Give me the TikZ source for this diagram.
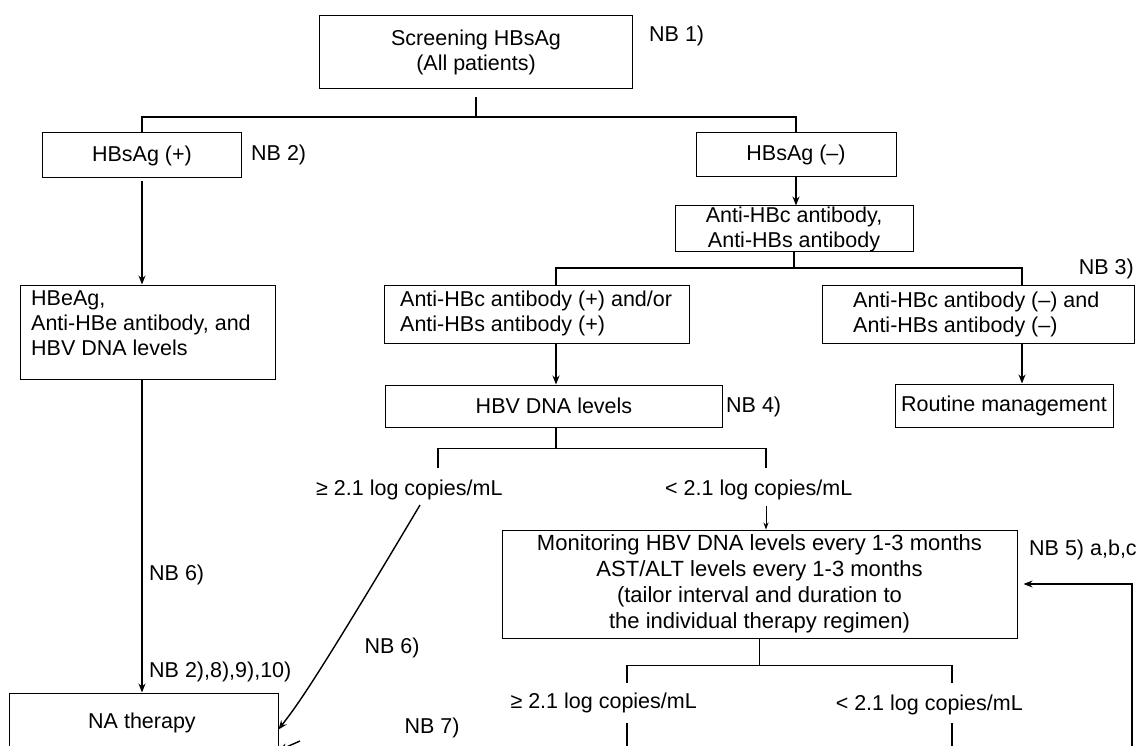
\documentclass[tikz,border=0pt]{standalone}
\usepackage{fontspec}
\setmainfont{Liberation Sans}
\usetikzlibrary{arrows.meta}
\begin{document}
\begin{tikzpicture}[x=1pt,y=-1pt,
  every node/.style={font=\fontsize{21.5}{25}\selectfont, inner sep=0pt},
  box/.style={draw, line width=1pt, align=center},
  txt/.style={align=left},
  conn/.style={line width=1.4pt},
  arr/.style={line width=1.4pt, -{Stealth[length=9pt,width=7pt]}},
  arrsmall/.style={line width=1pt, -{Stealth[length=7pt,width=5pt]}}
]
\path[use as bounding box] (0,0) rectangle (1138,746);
\clip (0,0) rectangle (1138,746);

% boxes
\node[box, minimum width=313pt, minimum height=73pt] (scr) at (476,52.5) {Screening HBsAg\\(All patients)};
\node[box, minimum width=199pt, minimum height=45pt] (pos) at (142,155.5) {HBsAg (+)};
\node[box, minimum width=200pt, minimum height=44pt] (neg) at (796,155) {HBsAg (–)};
\node[box, minimum width=238pt, minimum height=46pt] (antic) at (794,229) {Anti-HBc antibody,\\Anti-HBs antibody};
\node[box, minimum width=255pt, minimum height=94pt] (hbe) at (147.5,332) {};
\node[txt, anchor=west] (hbet) at (31,323) {HBeAg,\\Anti-HBe antibody, and\\HBV DNA levels};
\node[box, minimum width=305pt, minimum height=58pt] (abpos) at (536.5,314) {};
\node[txt, anchor=west] (abpost) at (400,313) {Anti-HBc antibody (+) and/or\\Anti-HBs antibody (+)};
\node[box, minimum width=312pt, minimum height=58pt] (abneg) at (978,314) {};
\node[txt, anchor=west] (abnegt) at (853,314) {Anti-HBc antibody (–) and\\Anti-HBs antibody (–)};
\node[box, minimum width=337pt, minimum height=42pt] (hbv) at (554,406) {HBV DNA levels};
\node[box, minimum width=218pt, minimum height=43pt] (rm) at (1004,405.5) {Routine management};
\node[box, minimum width=515pt, minimum height=108pt, font=\fontsize{22}{26}\selectfont] (mon) at (759.5,584) {Monitoring HBV DNA levels every 1-3 months\\AST/ALT levels every 1-3 months\\(tailor interval and duration to\\the individual therapy regimen)};
\node[box, minimum width=269pt, minimum height=114pt] (na) at (143.5,750) {};
\node (nat) at (142,723) {NA therapy};

% labels
\node[anchor=west] (nb1) at (649,36) {NB 1)};
\node[anchor=west] (nb2) at (251,155) {NB 2)};
\node[anchor=east] (nb3) at (1134,269) {NB 3)};
\node[anchor=west] (nb4) at (726,407) {NB 4)};
\node[anchor=west] (nb5) at (1029,550) {NB 5) a,b,c};
\node[anchor=west] (nb6a) at (149,575) {NB 6)};
\node[anchor=west] (nb2b) at (149,672) {NB 2),8),9),10)};
\node (nb6b) at (392,648) {NB 6)};
\node (nb7) at (432,728) {NB 7)};
\node[anchor=west] (gl1) at (316,490) {≥ 2.1 log copies/mL};
\node[anchor=west] (ll1) at (665,490) {< 2.1 log copies/mL};
\node[anchor=east] (gl2) at (697,703) {≥ 2.1 log copies/mL};
\node[anchor=east] (ll2) at (1023,705) {< 2.1 log copies/mL};

% connectors
\coordinate (j1) at (476,117);
\draw[conn] ([yshift=-8pt]scr.south) -- (j1);
\draw[conn] (pos.north) |- (j1) -| (neg.north);
\draw[arr] ([yshift=-3pt]pos.south) -- (pos.south |- hbe.north);
\draw[arr] (pos.south |- hbe.south) -- (pos.south |- na.north);
\draw[arr] (neg.south) -- (neg.south |- antic.north);

\coordinate (j2) at (794,268);
\coordinate (j2l) at (556,285);
\coordinate (j2r) at (1022,285);
\draw[conn] (antic.south) -- (j2);
\draw[conn] (j2l) |- (j2) -| (j2r);
\draw[arr] (j2l |- abpos.south) -- (j2l |- hbv.north);
\draw[arr] (j2r |- abneg.south) -- (j2r |- rm.north);

\draw[conn] (j2l |- hbv.south) -- ++(0,21) coordinate (j3);
\coordinate (j3l) at (438,468);
\coordinate (j3r) at (766,468);
\draw[conn] (j3l) |- (j3) -| (j3r);

\coordinate (a5) at (766,506);
\draw[arrsmall] (a5) -- (a5 |- mon.north);

\draw[conn] (mon.south) -- ++(0,27) coordinate (j4);
\coordinate (j4l) at (627,683);
\coordinate (j4r) at (952,683);
\draw[conn] (j4l) |- (j4) -| (j4r);
\coordinate (k1) at (627,723); \coordinate (k1e) at (627,760);
\coordinate (k2) at (952,723); \coordinate (k2e) at (952,760);
\draw[conn] (k1) -- (k1e);
\draw[conn] (k2) -- (k2e);

\coordinate (fb) at (1132,760);
\draw[arr] (fb) |- ([xshift=6pt]mon.east);

\coordinate (d0) at (420,505);
\draw[arr] (d0) .. controls (310,690) and (295,708) .. ([yshift=-37pt]na.north east);

\coordinate (n7) at (300,741);
\draw[arr] (n7) -- ([yshift=-58pt]na.north east);
\end{tikzpicture}
\end{document}
